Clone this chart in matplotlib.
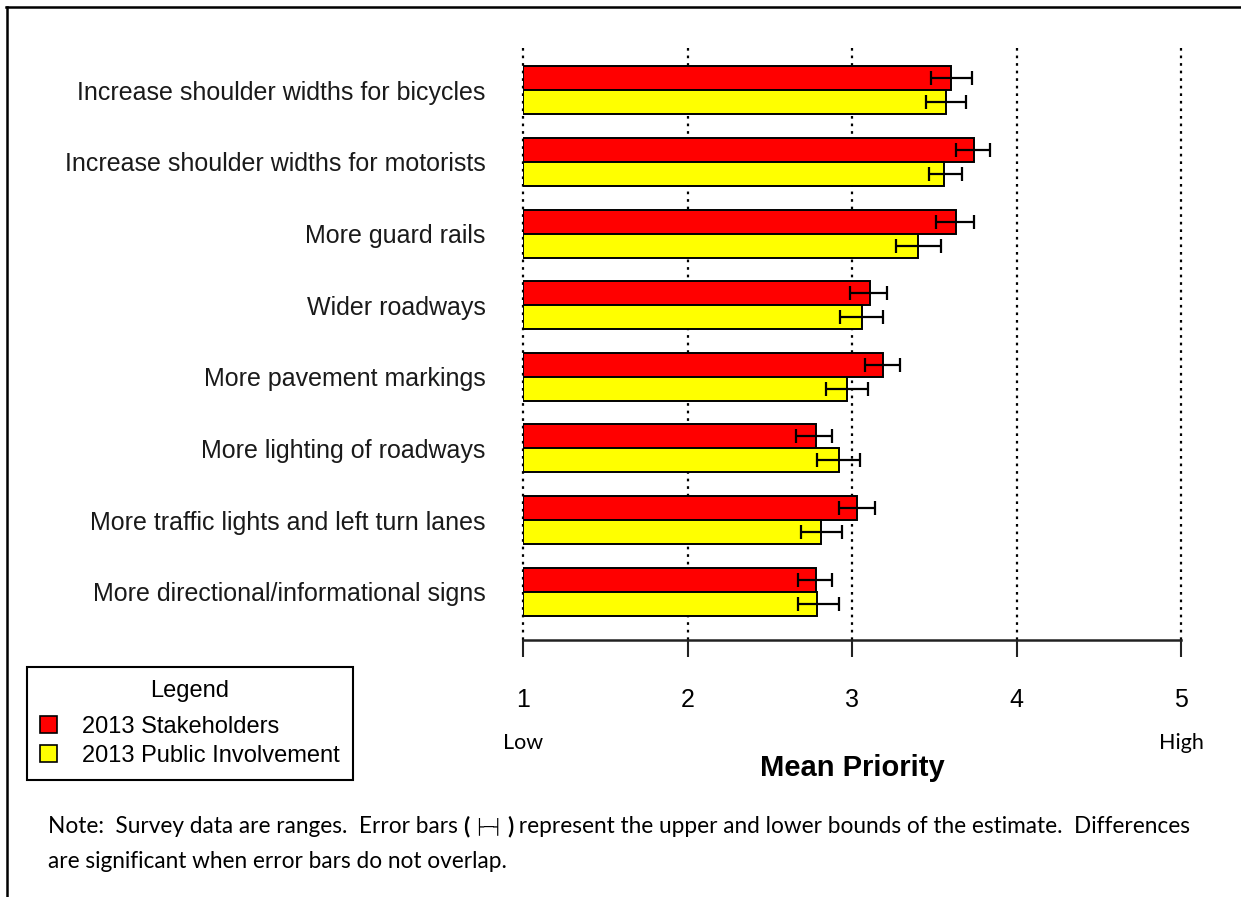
import numpy as np
import matplotlib
matplotlib.use("Agg")
import matplotlib.pyplot as plt
from matplotlib.patches import Patch
from matplotlib.lines import Line2D
import matplotlib.transforms as mtransforms

categories = [
    "Increase shoulder widths for bicycles",
    "Increase shoulder widths for motorists",
    "More guard rails",
    "Wider roadways",
    "More pavement markings",
    "More lighting of roadways",
    "More traffic lights and left turn lanes",
    "More directional/informational signs",
]
stake_mean = [3.60, 3.74, 3.63, 3.11, 3.19, 2.78, 3.03, 2.78]
stake_low = [3.48, 3.63, 3.51, 2.99, 3.08, 2.66, 2.92, 2.67]
stake_high = [3.73, 3.84, 3.74, 3.21, 3.29, 2.88, 3.14, 2.88]
public_mean = [3.57, 3.56, 3.40, 3.06, 2.97, 2.92, 2.81, 2.79]
public_low = [3.45, 3.47, 3.27, 2.93, 2.84, 2.79, 2.69, 2.67]
public_high = [3.69, 3.67, 3.54, 3.19, 3.10, 3.05, 2.94, 2.92]
series_names = ["2013 Stakeholders", "2013 Public Involvement"]
xticks = [1, 2, 3, 4, 5]

W, H = 1241, 897
fig = plt.figure(figsize=(W / 100, H / 100), dpi=100)
fig.patch.set_facecolor("white")

def fx(px):
    return px / W

def fy(py):
    return 1 - py / H

ax = fig.add_axes([fx(523), fy(640), fx(1181) - fx(523), fy(48) - fy(640)])
ax.set_xlim(1, 5)
ax.set_ylim(0.325, 8.59)

n = len(categories)
ypos = np.arange(n, 0, -1)
h = 0.335

for x in xticks:
    ax.axvline(x, color="black", lw=1.6, ls=(0, (1.2, 2.2)), zorder=0, clip_on=False)

base = xticks[0]
stake_mean = np.array(stake_mean)
public_mean = np.array(public_mean)
ax.barh(ypos + h / 2, stake_mean - base, left=base, height=h, color="#ff0000",
        edgecolor="black", linewidth=1.4, zorder=2)
ax.barh(ypos - h / 2, public_mean - base, left=base, height=h, color="#ffff00",
        edgecolor="black", linewidth=1.4, zorder=2)

serr = [stake_mean - np.array(stake_low), np.array(stake_high) - stake_mean]
perr = [public_mean - np.array(public_low), np.array(public_high) - public_mean]
ax.errorbar(stake_mean, ypos + h / 2, xerr=serr, fmt="none", ecolor="black",
            elinewidth=1.6, capsize=4.7, capthick=1.6, zorder=3)
ax.errorbar(public_mean, ypos - h / 2, xerr=perr, fmt="none", ecolor="black",
            elinewidth=1.6, capsize=4.7, capthick=1.6, zorder=3)

for s in ["top", "right", "left"]:
    ax.spines[s].set_visible(False)
ax.spines["bottom"].set_color("#222222")
ax.spines["bottom"].set_linewidth(1.8)

ax.set_xticks(xticks)
ax.set_xticklabels([str(t) for t in xticks], fontsize=18, family="Liberation Sans")
ax.tick_params(axis="x", direction="out", length=12.5, width=1.5, pad=22,
               colors="#222222", labelcolor="black")
ax.set_yticks(ypos)
ax.set_yticklabels(categories, fontsize=18.0, family="Liberation Sans", color="#1a1a1a")
ax.tick_params(axis="y", length=0, pad=27)

# Low / High and axis title
blend = mtransforms.blended_transform_factory(ax.transData, fig.transFigure)
ax.text(xticks[0], fy(743), "Low", transform=blend, ha="center", va="center",
        fontsize=15.5, family="Lato", clip_on=False)
ax.text(xticks[-1], fy(743), "High", transform=blend, ha="center", va="center",
        fontsize=15.5, family="Lato", clip_on=False)
ax.text(3, fy(768), "Mean Priority", transform=blend, ha="center", va="center",
        fontsize=21, fontweight="bold", family="Liberation Sans", clip_on=False)

# legend
handles = [Patch(facecolor="#ff0000", edgecolor="black", linewidth=1.2),
           Patch(facecolor="#ffff00", edgecolor="black", linewidth=1.2)]
leg = fig.legend(handles, series_names, loc="upper left",
                 bbox_to_anchor=(fx(27), fy(667)), borderaxespad=0,
                 title="Legend", fancybox=False, edgecolor="black",
                 prop={"family": "Liberation Sans", "size": 17},
                 title_fontproperties={"family": "Liberation Sans", "size": 17},
                 handlelength=0.7, handleheight=0.7, handletextpad=1.1,
                 labelspacing=0.3, borderpad=0.55, framealpha=1)
leg.get_frame().set_linewidth(1.5)
leg._legend_box.sep = 10

# note text built from pieces
note_kw = dict(fontsize=16.3, family="Lato", color="black")
t1 = fig.text(fx(48), fy(826), "Note:  Survey data are ranges.  Error bars ", va="center", **note_kw)
pieces = [("(", dict(note_kw, fontweight="bold")),
          (" \u251c\u2500\u2524 ", dict(fontsize=11, family="DejaVu Sans")),
          (")", dict(note_kw, fontweight="bold")),
          (" represent the upper and lower bounds of the estimate.  Differences", note_kw)]
prev = t1
for txt, kw in pieces:
    prev = fig.add_artist(plt.Annotation(txt, xy=(1, 0.5), xycoords=prev,
                                         va="center", ha="left", **kw))
fig.text(fx(48), fy(861), "are significant when error bars do not overlap.", va="center", **note_kw)

# frame of the document box
fig.add_artist(Line2D([fx(6), fx(W)], [fy(7), fy(7)], color="black", lw=1.8,
                      transform=fig.transFigure))
fig.add_artist(Line2D([fx(6.5), fx(6.5)], [fy(7), 0], color="black", lw=1.8,
                      transform=fig.transFigure))

fig.savefig("out.png", dpi=100, facecolor="white")
